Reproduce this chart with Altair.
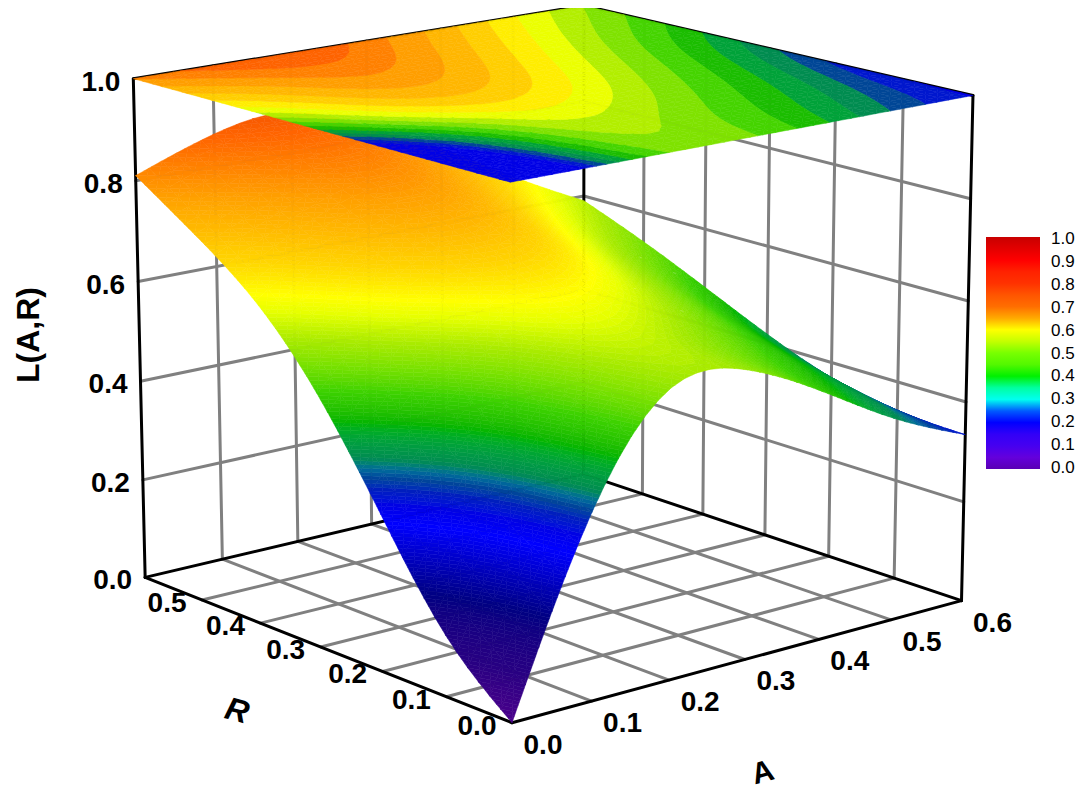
import numpy as np
import pandas as pd
import altair as alt

alt.data_transformers.disable_max_rows()

# ---------- values ----------
A_VALUES = [0.0, 0.1, 0.2, 0.3, 0.4, 0.5, 0.6]
R_VALUES = [0.0, 0.1, 0.2, 0.3, 0.4, 0.5, 0.6]
L_A00 = [0.00, 0.10, 0.305, 0.505, 0.645, 0.73, 0.81]
L_A01 = [0.39, 0.44, 0.52, 0.68, 0.745, 0.79, 0.87]
L_A02 = [0.60, 0.62, 0.66, 0.735, 0.80, 0.84, 0.90]
L_A03 = [0.57, 0.575, 0.63, 0.695, 0.745, 0.79, 0.825]
L_A04 = [0.49, 0.52, 0.555, 0.60, 0.65, 0.705, 0.76]
L_A05 = [0.395, 0.445, 0.485, 0.52, 0.56, 0.61, 0.665]
L_A06 = [0.335, 0.338, 0.365, 0.418, 0.48, 0.54, 0.59]
L_GRID = np.array([L_A00, L_A01, L_A02, L_A03, L_A04, L_A05, L_A06])

L_TICKS = [0.0, 0.2, 0.4, 0.6, 0.8, 1.0]
AR_TICKS = [0.0, 0.1, 0.2, 0.3, 0.4, 0.5, 0.6]
BAR_TICKS = [0.0, 0.1, 0.2, 0.3, 0.4, 0.5, 0.6, 0.7, 0.8, 0.9, 1.0]

SURF_DOMAIN = [0, .08, .18, .29, .32, .345, .365, .395, .45, .50, .54, .58, .62, .645, .69, .73, .78, .82, .86, 1]
SURF_RANGE = ["#4b008c", "#280082", "#000082", "#0000ff", "#0000e6", "#001ebe", "#004696", "#008c50", "#00b400",
              "#3cd200", "#78e100", "#aaeb00", "#e6ff00", "#ffff00", "#ffd700", "#ffbe00", "#ffa000", "#ff8200",
              "#ff6400", "#d00000"]
BAR_DOMAIN = [0, .05, .1, .2, .25, .3, .35, .4, .5, .6, .65, .7, .8, .9, 1]
BAR_RANGE = ["#5a00b4", "#6400dc", "#4600f0", "#0000ff", "#005aff", "#00fff0", "#00ffa0", "#00f000",
             "#78ff00", "#ffff00", "#ffaa00", "#ff6e00", "#ff3200", "#ff0000", "#c80000"]

# box corners of the 3-D frame in the picture: (A, R, L) -> page pixel
CORNERS = [((0, 0, 0), (511, 722)), ((.6, 0, 0), (961, 602)), ((0, .6, 0), (145, 578)), ((.6, .6, 0), (585, 473)),
           ((0, 0, 1), (512, 182)), ((.6, 0, 1), (973, 95)), ((0, .6, 1), (133, 79)), ((.6, .6, 1), (583, 6))]

# ---------- projection ----------
M, b = [], []
for (a, r, l), (u, v) in CORNERS:
    M.append([a, r, l, 1, 0, 0, 0, 0, -u * a, -u * r, -u * l]); b.append(u)
    M.append([0, 0, 0, 0, a, r, l, 1, -v * a, -v * r, -v * l]); b.append(v)
H = np.append(np.linalg.lstsq(np.array(M, float), np.array(b, float), rcond=None)[0], 1.0).reshape(3, 4)


def project(a, r, l):
    p = H @ np.array([a, r, l, 1.0])
    return p[0] / p[2], p[1] / p[2]


# ---------- smooth shading of the grid cells ----------
def bs_weights(t):
    return np.array([(1 - t) ** 3, 3 * t ** 3 - 6 * t * t + 4, -3 * t ** 3 + 3 * t * t + 3 * t + 1, t ** 3]) / 6


N = 6
G = np.pad(L_GRID, 1, mode="reflect", reflect_type="odd")
n = len(A_VALUES) - 1
fa = np.linspace(0, n, n * N + 1)
FINE = np.zeros((len(fa), len(fa)))
for i, s in enumerate(fa):
    for j, t in enumerate(fa):
        i0, j0 = min(int(s), n - 1), min(int(t), n - 1)
        FINE[i, j] = bs_weights(s - i0) @ G[i0:i0 + 4, j0:j0 + 4] @ bs_weights(t - j0)
FINE = np.maximum(FINE, 0)
COORD = fa * 0.1


def clip(poly, lo, hi):
    def cut(pts, keep):
        out = []
        for k in range(len(pts)):
            p, q = pts[k], pts[(k + 1) % len(pts)]
            dp, dq = keep(p[2]), keep(q[2])
            if dp >= 0:
                out.append(p)
            if dp * dq < 0:
                f = dp / (dp - dq)
                out.append(tuple(p[m] + f * (q[m] - p[m]) for m in range(3)))
        return out
    pts = cut(poly, lambda z: z - lo)
    return cut(pts, lambda z: hi - z) if pts else pts


def bands(step, base, top):
    rows, pid = [], 0
    for i in range(len(fa) - 2, -1, -1):
        for j in range(len(fa) - 2, -1, -1):
            c = [(COORD[i + di], COORD[j + dj], FINE[i + di, j + dj]) for di, dj in ((0, 0), (1, 0), (1, 1), (0, 1))]
            for tri in ((c[0], c[1], c[2]), (c[0], c[2], c[3])):
                zs = [p[2] for p in tri]
                for bi in range(int((min(zs) - base) // step), int((max(zs) - base) // step) + 1):
                    poly = clip(list(tri), base + bi * step, base + (bi + 1) * step)
                    if len(poly) < 3:
                        continue
                    pid += 1
                    mid = base + (bi + .5) * step
                    if top:
                        mid = float(np.interp(mid, [.34, .466, .646, .862], [.32, .425, .625, .862]))
                    for k, p in enumerate(poly + poly[:1]):
                        u, v = project(p[0], p[1], 1.0 if top else p[2])
                        rows.append((round(u, 1), round(v, 1), pid, k, round(mid, 4)))
    return pd.DataFrame(rows, columns=["x", "y", "id", "k", "c"])


surface = bands(0.006, 0.0, False)
plane = bands(0.036, 0.016, True)


def segs(pairs):
    rows = []
    for idx, (p, q) in enumerate(pairs):
        for k, e in enumerate((p, q)):
            u, v = project(*e)
            rows.append((u, v, idx, k))
    return pd.DataFrame(rows, columns=["x", "y", "id", "k"])


inner = AR_TICKS[1:-1]
gray = []
for t in inner:
    gray.append(((t, 0, 0), (t, .6, 0)))
    gray.append(((0, t, 0), (.6, t, 0)))
    gray.append(((t, .6, 0), (t, .6, 1)))
    gray.append(((.6, t, 0), (.6, t, 1)))
for z in L_TICKS[1:-1]:
    gray.append(((0, .6, z), (.6, .6, z)))
    gray.append(((.6, 0, z), (.6, .6, z)))
black = [((0, 0, 0), (.6, 0, 0)), ((0, 0, 0), (0, .6, 0)), ((0, .6, 0), (.6, .6, 0)), ((.6, 0, 0), (.6, .6, 0)),
         ((0, .6, 0), (0, .6, 1)), ((.6, 0, 0), (.6, 0, 1)), ((.6, .6, 0), (.6, .6, 1)),
         ((0, .6, 1), (.6, .6, 1)), ((.6, 0, 1), (.6, .6, 1))]

# ---------- labels ----------
lab = []
for z in L_TICKS:
    u, v = project(0, .6, z)
    lab.append((u - 13, v + 4, f"{z:.1f}", "right"))
for t in AR_TICKS:
    u, v = project(t, 0, 0)
    lab.append((u + 31, v + 23, f"{t:.1f}", "center"))
for t in AR_TICKS[:-1]:
    u, v = project(0, t, 0)
    lab.append((u - 35, v + 4, f"{t:.1f}", "center"))
labels = pd.DataFrame(lab, columns=["x", "y", "t", "al"])
bar_labels = pd.DataFrame({"x": [1051] * len(BAR_TICKS),
                           "y": list(np.interp(BAR_TICKS, [0, 1], [468, 239])),
                           "t": [f"{t:.1f}" for t in BAR_TICKS]})

X = alt.X("x:Q", scale=alt.Scale(domain=[8, 1076], nice=False, zero=False), axis=None)
Y = alt.Y("y:Q", scale=alt.Scale(domain=[789, 8], nice=False, zero=False), axis=None)
surf_scale = alt.Scale(domain=SURF_DOMAIN, range=SURF_RANGE)


def poly_layer(df, sw):
    return alt.Chart(df).mark_line(strokeWidth=sw, strokeJoin="round", interpolate="linear").encode(
        x=X, y=Y, detail="id:N", order="k:Q",
        fill=alt.Fill("c:Q", scale=surf_scale, legend=None),
        stroke=alt.Stroke("c:Q", scale=surf_scale, legend=None))


def line_layer(df, color, sw):
    return alt.Chart(df).mark_line(color=color, strokeWidth=sw, strokeCap="round").encode(
        x=X, y=Y, detail="id:N", order="k:Q")


def text_layer(df, size, weight="bold", **kw):
    return alt.Chart(df).mark_text(font="Liberation Sans", fontWeight=weight, fontSize=size, color="black",
                                   baseline="middle", **kw).encode(x=X, y=Y, text="t:N")


tick_right = text_layer(labels[labels.al == "right"], 28, align="right")
tick_center = text_layer(labels[labels.al == "center"], 28, align="center")
bar_text = text_layer(bar_labels, 17, weight="normal", align="left")
title_l = text_layer(pd.DataFrame({"x": [29], "y": [335], "t": ["L(A,R)"]}), 32, align="center", angle=270)
title_r = text_layer(pd.DataFrame({"x": [237], "y": [711], "t": ["R"]}), 32, align="center", angle=15, fontStyle="italic")
title_a = text_layer(pd.DataFrame({"x": [763], "y": [773], "t": ["A"]}), 30, align="center", angle=345)

legend_layer = alt.Chart(pd.DataFrame({"x": [500, 500], "y": [400, 400], "v": [0.0, 1.0]})).mark_point(
    opacity=0, filled=True).encode(
    x=X, y=Y,
    color=alt.Color("v:Q", scale=alt.Scale(domain=BAR_DOMAIN, range=BAR_RANGE), legend=alt.Legend(
        title=None, orient="none", legendX=978, legendY=229, gradientLength=232, gradientThickness=54,
        values=[], labelOpacity=0, gradientStrokeWidth=0)))

chart = alt.layer(
    line_layer(segs(gray), "#808080", 3),
    line_layer(segs(black), "black", 3),
    poly_layer(surface, 0.5),
    poly_layer(plane, 0.5),
    tick_right, tick_center, bar_text, title_l, title_r, title_a, legend_layer,
).properties(
    width=1068, height=781, padding=0, autosize=alt.AutoSizeParams(type="none"), background="white",
).configure_view(strokeWidth=0)

chart.save("out.html", embed_options={"renderer": "svg", "actions": False})
